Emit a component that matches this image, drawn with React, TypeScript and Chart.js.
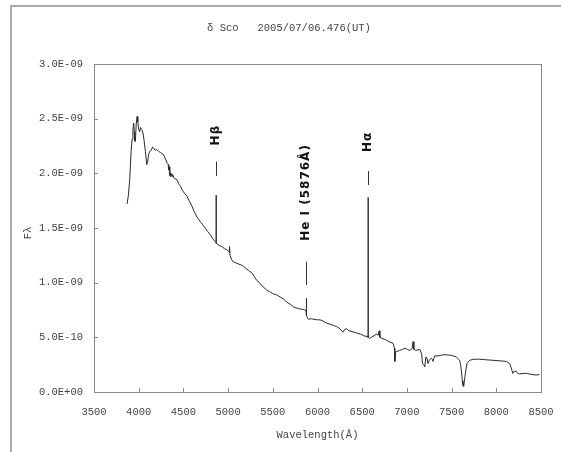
import { useEffect, useRef } from 'react';
import { Chart, registerables } from 'chart.js';

Chart.register(...registerables);

// Spectrum of delta Sco; flux values are in units of 1e-9 (erg/s/cm2/Å)
const TITLE = 'δ Sco   2005/07/06.476(UT)';
const X_TITLE = 'Wavelength(Å)';
const Y_TITLE = 'Fλ';

const xTickLabels = ['3500', '4000', '4500', '5000', '5500', '6000', '6500', '7000', '7500', '8000', '8500'];
const yTickLabels = ['0.0E+00', '5.0E-10', '1.0E-09', '1.5E-09', '2.0E-09', '2.5E-09', '3.0E-09'];

const wavelengths = [
  3870, 3885, 3900, 3915, 3926, 3935, 3944, 3950, 3955, 3963, 3972, 3982, 3990, 4000, 4011, 4020, 4030, 4040,
  4050, 4060, 4075, 4090, 4100, 4110, 4123, 4140, 4155, 4168, 4185, 4200, 4223, 4245, 4260, 4279, 4300, 4320,
  4330, 4335, 4340, 4345, 4350, 4355, 4362, 4373, 4380, 4390, 4410, 4429, 4450, 4470, 4484, 4510, 4540, 4570,
  4596, 4620, 4640, 4652, 4670, 4688, 4715, 4744, 4770, 4800, 4830, 4850, 4864, 4865, 4866, 4867, 4868, 4900,
  4930, 4960, 4990, 5012, 5016, 5022, 5040, 5060, 5090, 5120, 5150, 5172, 5200, 5230, 5265, 5290, 5321, 5350,
  5380, 5410, 5433, 5460, 5500, 5540, 5581, 5620, 5660, 5700, 5730, 5760, 5800, 5840, 5872, 5874, 5876, 5880,
  5892, 5898, 5930, 5960, 6000, 6028, 6060, 6100, 6140, 6176, 6210, 6250, 6280, 6288, 6300, 6326, 6350, 6400,
  6437, 6480, 6530, 6555, 6564, 6565, 6566, 6567, 6568, 6580, 6623, 6660, 6680, 6690, 6698, 6720, 6760, 6800,
  6846, 6860, 6865, 6875, 6884, 6921, 6950, 6977, 7005, 7032, 7060, 7069, 7078, 7100, 7144, 7165, 7174, 7190,
  7200, 7212, 7225, 7237, 7250, 7274, 7283, 7293, 7310, 7348, 7400, 7442, 7500, 7553, 7590, 7600, 7609, 7620,
  7627, 7635, 7646, 7660, 7672, 7702, 7750, 7813, 7880, 7962, 8040, 8111, 8150, 8167, 8185, 8200, 8222, 8240,
  8260, 8300, 8335, 8400, 8446, 8483,
];

const fluxes = [
  1.72, 1.80, 1.95, 2.20, 2.31, 2.40, 2.46, 2.38, 2.30, 2.29, 2.45, 2.52, 2.47, 2.40, 2.38, 2.42, 2.40, 2.39,
  2.36, 2.30, 2.20, 2.08, 2.10, 2.17, 2.20, 2.21, 2.24, 2.23, 2.21, 2.22, 2.20, 2.19, 2.18, 2.17, 2.13, 2.09,
  2.08, 2.03, 2.06, 1.98, 2.03, 1.97, 2.00, 1.97, 1.99, 1.96, 1.95, 1.94, 1.90, 1.88, 1.85, 1.82, 1.79, 1.74,
  1.70, 1.65, 1.62, 1.60, 1.58, 1.56, 1.53, 1.50, 1.47, 1.44, 1.40, 1.38, 1.37, 1.37, 1.80, 1.36, 1.36, 1.34,
  1.33, 1.31, 1.30, 1.28, 1.33, 1.25, 1.21, 1.19, 1.18, 1.17, 1.16, 1.15, 1.13, 1.11, 1.09, 1.06, 1.02, 1.00,
  0.97, 0.95, 0.93, 0.92, 0.90, 0.89, 0.87, 0.85, 0.82, 0.80, 0.78, 0.77, 0.76, 0.755, 0.745, 0.857, 0.745, 0.70,
  0.67, 0.665, 0.67, 0.665, 0.66, 0.66, 0.65, 0.63, 0.62, 0.61, 0.60, 0.58, 0.55, 0.55, 0.57, 0.58, 0.56, 0.55,
  0.54, 0.53, 0.51, 0.51, 0.50, 0.50, 1.78, 0.50, 0.50, 0.49, 0.51, 0.53, 0.52, 0.56, 0.50, 0.49, 0.48, 0.46,
  0.445, 0.40, 0.28, 0.37, 0.37, 0.38, 0.39, 0.40, 0.39, 0.38, 0.40, 0.46, 0.39, 0.38, 0.39, 0.35, 0.26, 0.25,
  0.23, 0.32, 0.31, 0.26, 0.29, 0.31, 0.30, 0.28, 0.33, 0.33, 0.34, 0.34, 0.335, 0.32, 0.29, 0.25, 0.20, 0.10,
  0.06, 0.05, 0.12, 0.20, 0.26, 0.29, 0.30, 0.30, 0.295, 0.29, 0.285, 0.28, 0.26, 0.22, 0.17, 0.19, 0.19, 0.17,
  0.165, 0.17, 0.17, 0.16, 0.155, 0.16,
];

// Emission line annotations
const lineLabels = ['Hβ', 'He I (5876Å)', 'Hα'];
const lineWavelengths = [4866, 5875, 6567];
const lineLabelFlux = [2.35, 1.825, 2.287];
const lineMarkTop = [2.107, 1.192, 2.021];
const lineMarkBottom = [1.976, 0.979, 1.893];

const MONO = '"Liberation Mono", "DejaVu Sans Mono", monospace';
const TEXT_FONT = '10.5px ' + MONO;
const TEXT_COLOR = '#444';

const decorPlugin = {
  id: 'decor',
  beforeDraw(chart: any) {
    const ctx = chart.ctx;
    ctx.save();
    ctx.fillStyle = '#fff';
    ctx.fillRect(0, 0, chart.width, chart.height);
    ctx.strokeStyle = '#aaa';
    ctx.lineWidth = 2;
    ctx.beginPath();
    ctx.moveTo(11, chart.height);
    ctx.lineTo(11, 6);
    ctx.lineTo(chart.width, 6);
    ctx.stroke();
    ctx.restore();
  },
  afterDraw(chart: any) {
    const ctx = chart.ctx;
    const a = chart.chartArea;
    const xs = chart.scales.x;
    const ys = chart.scales.y;
    ctx.save();
    // plot box
    ctx.strokeStyle = '#888';
    ctx.lineWidth = 1;
    ctx.strokeRect(Math.round(a.left) + 0.5, Math.round(a.top) + 0.5, Math.round(a.right - a.left), Math.round(a.bottom - a.top));
    // inner tick marks
    ctx.beginPath();
    xs.ticks.forEach((t: any) => {
      const px = Math.round(xs.getPixelForValue(t.value)) + 0.5;
      ctx.moveTo(px, a.bottom);
      ctx.lineTo(px, a.bottom - 4);
    });
    ys.ticks.forEach((t: any) => {
      const py = Math.round(ys.getPixelForValue(t.value)) + 0.5;
      ctx.moveTo(a.left, py);
      ctx.lineTo(a.left + 4, py);
    });
    ctx.stroke();

    // title and axis titles
    ctx.fillStyle = TEXT_COLOR;
    ctx.font = TEXT_FONT;
    ctx.textAlign = 'center';
    ctx.textBaseline = 'middle';
    ctx.fillText(TITLE, 289, 28);
    ctx.fillText(X_TITLE, (a.left + a.right) / 2, 435);
    ctx.save();
    ctx.translate(28, 233);
    ctx.rotate(-Math.PI / 2);
    ctx.fillText(Y_TITLE, 0, 0);
    ctx.restore();

    // emission line annotations
    ctx.fillStyle = '#111';
    ctx.strokeStyle = '#333';
    ctx.font = 'bold 12px "DejaVu Sans", sans-serif';
    lineLabels.forEach((label, i) => {
      const px = xs.getPixelForValue(lineWavelengths[i]);
      ctx.save();
      ctx.translate(px, ys.getPixelForValue(lineLabelFlux[i]));
      ctx.rotate(-Math.PI / 2);
      (ctx as any).letterSpacing = '1px';
      ctx.fillText(label, 0, 0);
      ctx.restore();
      ctx.beginPath();
      ctx.moveTo(Math.round(px) + 0.5, ys.getPixelForValue(lineMarkTop[i]));
      ctx.lineTo(Math.round(px) + 0.5, ys.getPixelForValue(lineMarkBottom[i]));
      ctx.stroke();
    });
    ctx.restore();
  },
};

export default function App() {
  const canvasRef = useRef<HTMLCanvasElement | null>(null);

  useEffect(() => {
    const canvas = canvasRef.current;
    if (!canvas) return;
    const chart = new Chart(canvas, {
      type: 'scatter',
      data: {
        datasets: [
          {
            data: wavelengths.map((w, i) => ({ x: w, y: fluxes[i] })),
            showLine: true,
            borderColor: '#2a2a2a',
            borderWidth: 1,
            pointRadius: 0,
            tension: 0,
          },
        ],
      },
      options: {
        responsive: false,
        animation: false,
        devicePixelRatio: 1,
        layout: { padding: { left: 0, right: 20, top: 64, bottom: 0 } },
        plugins: {
          legend: { display: false },
          tooltip: { enabled: false },
          title: { display: false },
        },
        scales: {
          x: {
            type: 'linear',
            min: 3500,
            max: 8500,
            grid: { display: false, drawTicks: false },
            border: { display: false },
            ticks: {
              stepSize: 500,
              padding: 14,
              color: TEXT_COLOR,
              font: { family: MONO, size: 10.5 },
              maxRotation: 0,
              autoSkip: false,
              callback: (_v: any, i: number) => xTickLabels[i],
            },
            afterFit: (s: any) => {
              s.height = 60;
              s.paddingLeft = 0;
              s.paddingRight = 0;
            },
          },
          y: {
            type: 'linear',
            min: 0,
            max: 3,
            grid: { display: false, drawTicks: false },
            border: { display: false },
            ticks: {
              stepSize: 0.5,
              padding: 11,
              color: TEXT_COLOR,
              font: { family: MONO, size: 10.5 },
              autoSkip: false,
              callback: (_v: any, i: number) => yTickLabels[i],
            },
            afterFit: (s: any) => {
              s.width = 94;
              s.paddingTop = 0;
              s.paddingBottom = 0;
            },
          },
        },
      },
      plugins: [decorPlugin],
    });
    return () => chart.destroy();
  }, []);

  return (
    <div style={{ position: 'fixed', left: 0, top: 0, width: 561, height: 452, background: '#fff' }}>
      <canvas ref={canvasRef} width={561} height={452} style={{ display: 'block' }} />
    </div>
  );
}
